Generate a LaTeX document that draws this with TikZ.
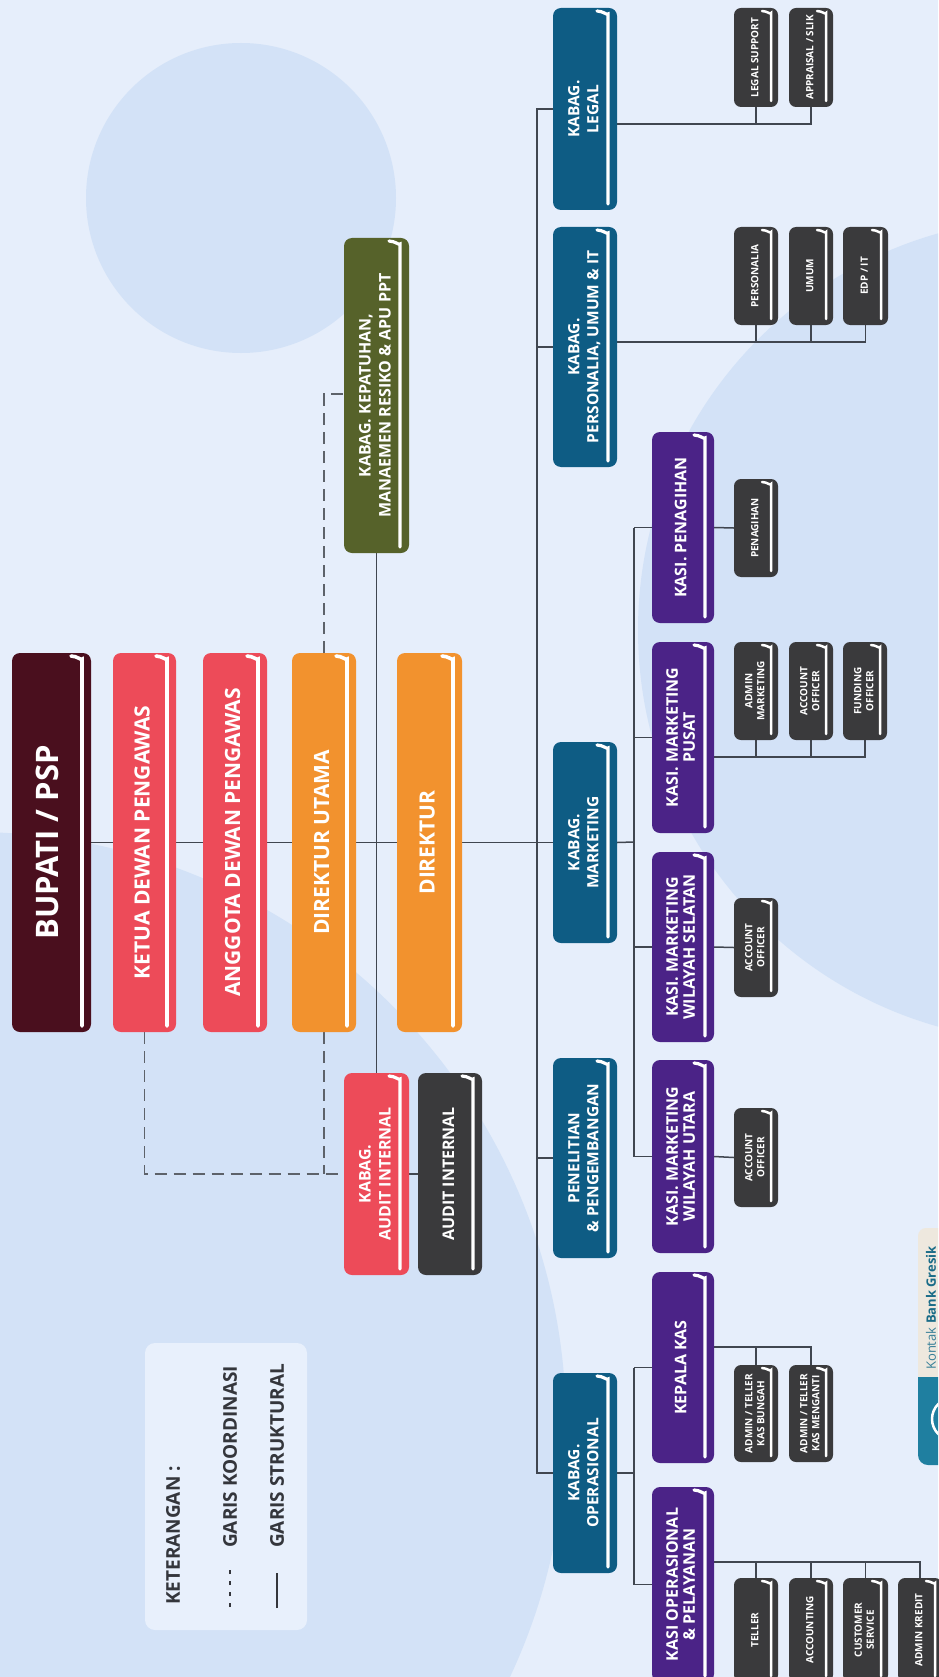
\documentclass[tikz,border=0pt]{standalone}
\usepackage{fontspec}
\setmainfont{Open Sans}
\usepackage{graphicx}
\usetikzlibrary{calc}
\definecolor{bgc}{RGB}{230,238,251}
\definecolor{circ}{RGB}{211,226,247}
\definecolor{maroon}{RGB}{74,15,30}
\definecolor{coral}{RGB}{237,75,89}
\definecolor{orng}{RGB}{242,146,46}
\definecolor{olive}{RGB}{86,98,42}
\definecolor{kblue}{RGB}{14,92,132}
\definecolor{kpurp}{RGB}{75,35,135}
\definecolor{dgray}{RGB}{58,58,60}
\definecolor{lnc}{RGB}{64,70,80}
\definecolor{legbg}{RGB}{232,240,252}
\definecolor{tealc}{RGB}{31,127,160}
\definecolor{beige}{RGB}{238,232,222}
\definecolor{legtxt}{RGB}{52,54,60}
\pgfdeclarelayer{bg}
\pgfdeclarelayer{lines}
\pgfsetlayers{bg,lines,main}
\newcommand{\rtx}[3]{\rotatebox{90}{\fontsize{#1}{#2}\selectfont\begin{tabular}{@{}c@{}}#3\end{tabular}}}
\newcommand{\obox}[7]{\node[#6,minimum width={(#4-#2)*1pt},minimum height={(#5-#3)*1pt}] (#1) at ({(#2+#4)/2},{(#3+#5)/2}) {#7};}
\tikzset{
  hl/.style n args={3}{path picture={\draw[white,line width=#2pt,line cap=round]
     ([xshift=-#1pt-#3pt,yshift=-3pt]path picture bounding box.north east) to[out=0,in=90]
     ([xshift=-#1pt,yshift=-#3pt-3pt]path picture bounding box.north east) --
     ([xshift=-#1pt,yshift=6pt]path picture bounding box.south east);}},
  obox/.style={rounded corners=8pt, inner sep=0pt, text=white, font=\bfseries},
  topbox/.style={obox, hl={9}{3.6}{11}},
  midbox/.style={obox, hl={9}{3.2}{11}},
  smallbox/.style={obox, fill=dgray, rounded corners=7pt, hl={7}{2.5}{9}},
  struct/.style={draw=lnc, line width=1.5pt},
  coord/.style={draw=lnc!85, line width=1.4pt, dash pattern=on 12pt off 7pt},
  legtext/.style={inner sep=0pt, text=legtxt, font=\bfseries\fontsize{19}{23}\selectfont}
}
\begin{document}
\begin{tikzpicture}[x=1pt,y=-1pt]
\useasboundingbox (0,0) rectangle (938,1677);
\begin{pgfonlayer}{bg}
\fill[bgc] (0,0) rectangle (938,1677);
\begin{scope}
\clip (0,0) rectangle (938,1677);
\fill[circ] (241,198) circle[radius=155pt];
\fill[circ] (1050,630) circle[radius=412pt];
\fill[circ] (-27,1425) circle[radius=593pt];
\end{scope}
\fill[legbg, rounded corners=10pt] (145,1343) rectangle (307,1630);
\end{pgfonlayer}

% top level
\obox{bupati}{12}{653}{91}{1032}{topbox,fill=maroon}{\rtx{31}{36}{BUPATI / PSP}}
\obox{ketua}{113}{653}{176}{1032}{topbox,fill=coral}{\rtx{21}{25}{KETUA DEWAN PENGAWAS}}
\obox{anggota}{203}{653}{267}{1032}{topbox,fill=coral}{\rtx{21}{25}{ANGGOTA DEWAN PENGAWAS}}
\obox{du}{292}{653}{356}{1032}{topbox,fill=orng}{\rtx{21}{25}{DIREKTUR UTAMA}}
\obox{dir}{397}{653}{462}{1032}{topbox,fill=orng}{\rtx{21}{25}{DIREKTUR}}

\obox{kep}{344}{238}{409}{553}{midbox,fill=olive}{\rtx{16}{20}{KABAG. KEPATUHAN,\\MANAEMEN RESIKO \& APU PPT}}
\obox{kaudit}{344}{1073}{409}{1275}{midbox,fill=coral}{\rtx{16}{20}{KABAG.\\AUDIT INTERNAL}}
\obox{aint}{418}{1073}{482}{1275}{midbox,fill=dgray}{\rtx{16}{20}{AUDIT INTERNAL}}

% kabag
\obox{klegal}{553}{8}{617}{210}{midbox,fill=kblue}{\rtx{15.5}{19}{KABAG.\\LEGAL}}
\obox{kpers}{553}{227}{617}{467}{midbox,fill=kblue}{\rtx{15.5}{19}{KABAG.\\PERSONALIA, UMUM \& IT}}
\obox{kmkt}{553}{742}{617}{943}{midbox,fill=kblue}{\rtx{15.5}{19}{KABAG.\\MARKETING}}
\obox{kpenel}{553}{1058}{617}{1258}{midbox,fill=kblue}{\rtx{15.5}{19}{PENELITIAN\\\& PENGEMBANGAN}}
\obox{kops}{553}{1373}{617}{1573}{midbox,fill=kblue}{\rtx{15.5}{19}{KABAG.\\OPERASIONAL}}

% kasi
\obox{kpen}{652}{432}{714}{623}{midbox,fill=kpurp}{\rtx{16}{17}{KASI. PENAGIHAN}}
\obox{kpusat}{652}{642}{714}{833}{midbox,fill=kpurp}{\rtx{16}{17}{KASI. MARKETING\\PUSAT}}
\obox{ksel}{652}{852}{714}{1042}{midbox,fill=kpurp}{\rtx{16}{17}{KASI. MARKETING\\WILAYAH SELATAN}}
\obox{kuta}{652}{1060}{714}{1253}{midbox,fill=kpurp}{\rtx{16}{17}{KASI. MARKETING\\WILAYAH UTARA}}
\obox{kkas}{652}{1272}{714}{1463}{midbox,fill=kpurp}{\rtx{16}{17}{KEPALA KAS}}
\obox{kopsl}{652}{1487}{714}{1682}{midbox,fill=kpurp}{\rtx{16}{17}{KASI OPERASIONAL\\\& PELAYANAN}}

% staff
\obox{lsup}{734}{8}{778}{107}{smallbox}{\rtx{10}{12}{LEGAL SUPPORT}}
\obox{appr}{789}{8}{833}{107}{smallbox}{\rtx{10}{12}{APPRAISAL / SLIK}}
\obox{pers}{734}{227}{778}{325}{smallbox}{\rtx{10}{12}{PERSONALIA}}
\obox{umum}{789}{227}{833}{325}{smallbox}{\rtx{10}{12}{UMUM}}
\obox{edp}{843}{227}{888}{325}{smallbox}{\rtx{10}{12}{EDP / IT}}
\obox{pnh}{734}{479}{778}{577}{smallbox}{\rtx{10}{12}{PENAGIHAN}}
\obox{adm}{734}{642}{778}{740}{smallbox}{\rtx{10}{12}{ADMIN\\MARKETING}}
\obox{ao}{789}{642}{833}{740}{smallbox}{\rtx{10}{12}{ACCOUNT\\OFFICER}}
\obox{fo}{843}{642}{887}{740}{smallbox}{\rtx{10}{12}{FUNDING\\OFFICER}}
\obox{aoa}{734}{898}{778}{997}{smallbox}{\rtx{10}{12}{ACCOUNT\\OFFICER}}
\obox{aob}{734}{1108}{778}{1207}{smallbox}{\rtx{10}{12}{ACCOUNT\\OFFICER}}
\obox{atb}{734}{1365}{778}{1462}{smallbox}{\rtx{10}{12}{ADMIN / TELLER\\KAS BUNGAH}}
\obox{atm}{789}{1365}{833}{1462}{smallbox}{\rtx{10}{12}{ADMIN / TELLER\\KAS MENGANTI}}
\obox{tel}{734}{1578}{778}{1682}{smallbox}{\rtx{10}{12}{TELLER}}
\obox{acc}{789}{1578}{833}{1682}{smallbox}{\rtx{10}{12}{ACCOUNTING}}
\obox{cs}{843}{1578}{888}{1682}{smallbox}{\rtx{10}{12}{CUSTOMER\\SERVICE}}
\obox{ak}{898}{1578}{942}{1682}{smallbox}{\rtx{10}{12}{ADMIN KREDIT}}

% legend
\node[legtext, anchor=south] (legk) at (173,1605) {\rotatebox{90}{KETERANGAN :}};
\node[legtext, anchor=south] (legc) at (230,1548) {\rotatebox{90}{GARIS KOORDINASI}};
\node[legtext, anchor=south] (legs) at (277,1548) {\rotatebox{90}{GARIS STRUKTURAL}};
\coordinate (lc1) at (230,1607); \coordinate (lc2) at (230,1567);
\coordinate (ls1) at (277,1608); \coordinate (ls2) at (277,1573);
\draw[draw=legtxt, line width=1.8pt, dash pattern=on 4pt off 7pt] (lc1) -- (lc2);
\draw[draw=legtxt, line width=1.8pt] (ls1) -- (ls2);

% kontak widget
\begin{scope}
\clip (0,0) rectangle (938,1677);
\fill[beige, rounded corners=8pt] (918,1228) rectangle (960,1400);
\begin{scope}
\clip (910,1377) rectangle (960,1480);
\fill[tealc, rounded corners=10pt] (918,1300) rectangle (960,1465);
\end{scope}
\draw[white, line width=2.5pt] (953,1419) circle[radius=21pt];
\end{scope}
\node[inner sep=0pt, anchor=south] (kontak) at (931,1370) {\rotatebox{90}{\fontsize{13}{15}\selectfont\color{tealc!75!gray}Kontak \textbf{\color{tealc!85!black}Bank Gresik}}};

\begin{pgfonlayer}{lines}
\draw[struct] (bupati.east) -- (kmkt.west);
\coordinate (busT) at (537,109);
\coordinate (busB) at (537,1473);
\draw[struct] (busT -| klegal.west) -- (busT) -- (busB) -- (busB -| kops.west);
\draw[struct] (busT |- kpers.west) -- (kpers.west);
\draw[struct] (busT |- kpenel.west) -- (kpenel.west);
\draw[struct] (kep.south) -- (kaudit.north);
\draw[struct] (kaudit.east) -- (aint.west);
\coordinate (kepin) at (344,394);
\draw[coord] (du.north) |- (kepin);
\draw[coord] (ketua.south) |- (kaudit.west);
\draw[coord] (du.south) -- (du.south |- kaudit.west);
% marketing
\coordinate (mb) at (634,842);
\draw[struct] (kmkt.east) -- (mb);
\draw[struct] (mb |- kpen.west) -- (mb |- kuta.west);
\foreach \n in {kpen,kpusat,ksel,kuta} \draw[struct] (mb |- \n.west) -- (\n.west);
% operasional
\coordinate (ob) at (634,1473);
\draw[struct] (kops.east) -- (ob);
\draw[struct] (ob |- kkas.west) -- (ob |- kopsl.west);
\foreach \n in {kkas,kopsl} \draw[struct] (ob |- \n.west) -- (\n.west);
% legal
\coordinate (lgj) at (0,124);
\draw[struct] (klegal.east |- lgj) -| (appr.south);
\draw[struct] (lsup.south) -- (lsup.south |- lgj);
% personalia
\coordinate (psj) at (0,342);
\draw[struct] (kpers.east |- psj) -| (edp.south);
\foreach \n in {pers,umum} \draw[struct] (\n.south) -- (\n.south |- psj);
% penagihan
\draw[struct] (kpen.east) -- (pnh.west);
% pusat
\coordinate (pusj) at (0,757);
\draw[struct] (kpusat.east |- pusj) -| (fo.south);
\foreach \n in {adm,ao} \draw[struct] (\n.south) -- (\n.south |- pusj);
% wilayah
\draw[struct] (ksel.east) -- (aoa.west);
\draw[struct] (kuta.east) -- (aob.west);
% kas
\coordinate (kasj) at (0,1347);
\draw[struct] (kkas.east |- kasj) -| (atm.north);
\draw[struct] (atb.north) -- (atb.north |- kasj);
% kasi ops
\coordinate (opsj) at (0,1562);
\draw[struct] (kopsl.east |- opsj) -| (ak.north);
\foreach \n in {tel,acc,cs} \draw[struct] (\n.north) -- (\n.north |- opsj);
\end{pgfonlayer}
\end{tikzpicture}
\end{document}
